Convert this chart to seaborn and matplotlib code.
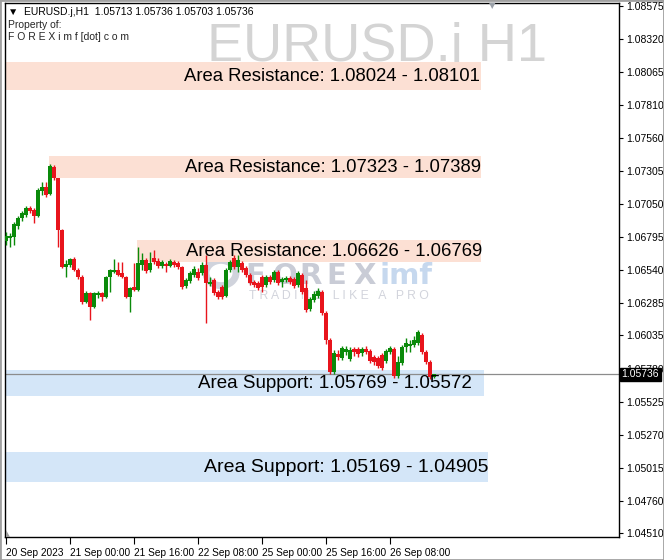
import numpy as np
import pandas as pd
import matplotlib
matplotlib.use("Agg")
import matplotlib.pyplot as plt
import seaborn as sns

# ---------------------------------------------------------
# DATA (EURUSD.j H1, 20 Sep - 26 Sep 2023)
# ---------------------------------------------------------

opens = [1.06762, 1.06785, 1.06793, 1.06878, 1.06940, 1.06963, 1.07017, 1.07001, 1.06955, 1.07148,
         1.07179, 1.07125, 1.07333, 1.07248, 1.06847, 1.06562, 1.06577, 1.06624, 1.06539, 1.06485,
         1.06292, 1.06361, 1.06253, 1.06346, 1.06361, 1.06330, 1.06485, 1.06523, 1.06539, 1.06516,
         1.06485, 1.06330, 1.06408, 1.06384, 1.06577, 1.06616, 1.06539, 1.06631, 1.06608, 1.06570,
         1.06585, 1.06570, 1.06600, 1.06593, 1.06562, 1.06415, 1.06454, 1.06500, 1.06523, 1.06516,
         1.06577, 1.06431, 1.06461, 1.06369, 1.06408, 1.06338, 1.06539, 1.06631, 1.06562, 1.06593,
         1.06554, 1.06500, 1.06446, 1.06438, 1.06485, 1.06423, 1.06485, 1.06461, 1.06523, 1.06446,
         1.06461, 1.06477, 1.06469, 1.06423, 1.06500, 1.06400, 1.06238, 1.06307, 1.06338, 1.06369,
         1.06207, 1.05999, 1.05752, 1.05891, 1.05860, 1.05907, 1.05853, 1.05930, 1.05930, 1.05899,
         1.05930, 1.05914, 1.05868, 1.05860, 1.05883, 1.05837, 1.05907, 1.05930, 1.05721, 1.05822,
         1.05945, 1.05953, 1.05960, 1.05976, 1.06038, 1.05907, 1.05829, 1.05713]

highs = [1.06832, 1.06824, 1.06909, 1.06955, 1.06994, 1.07032, 1.07032, 1.07017, 1.07171, 1.07217,
         1.07217, 1.07356, 1.07348, 1.07248, 1.06855, 1.06616, 1.06631, 1.06639, 1.06554, 1.06500,
         1.06377, 1.06369, 1.06369, 1.06377, 1.06369, 1.06492, 1.06546, 1.06624, 1.06600, 1.06600,
         1.06492, 1.06408, 1.06593, 1.06716, 1.06670, 1.06631, 1.06678, 1.06693, 1.06631, 1.06616,
         1.06600, 1.06624, 1.06616, 1.06608, 1.06570, 1.06477, 1.06531, 1.06570, 1.06554, 1.06600,
         1.06655, 1.06485, 1.06477, 1.06384, 1.06423, 1.06554, 1.06616, 1.06655, 1.06655, 1.06608,
         1.06570, 1.06516, 1.06461, 1.06454, 1.06500, 1.06500, 1.06500, 1.06539, 1.06539, 1.06485,
         1.06492, 1.06492, 1.06485, 1.06531, 1.06516, 1.06461, 1.06331, 1.06377, 1.06400, 1.06385,
         1.06223, 1.06014, 1.05922, 1.05922, 1.05953, 1.05953, 1.05945, 1.05945, 1.05945, 1.05945,
         1.05953, 1.05930, 1.05883, 1.05876, 1.05899, 1.05930, 1.05953, 1.05945, 1.05876, 1.05960,
         1.06014, 1.05999, 1.06030, 1.06076, 1.06053, 1.05922, 1.05845, 1.05736]

lows = [1.06731, 1.06716, 1.06731, 1.06855, 1.06917, 1.06947, 1.06978, 1.06901, 1.06947, 1.07117,
        1.07102, 1.07117, 1.07233, 1.06716, 1.06554, 1.06485, 1.06562, 1.06531, 1.06469, 1.06276,
        1.06284, 1.06153, 1.06245, 1.06323, 1.06300, 1.06323, 1.06369, 1.06516, 1.06492, 1.06477,
        1.06323, 1.06215, 1.06377, 1.06377, 1.06539, 1.06516, 1.06523, 1.06585, 1.06554, 1.06554,
        1.06523, 1.06562, 1.06562, 1.06546, 1.06392, 1.06400, 1.06438, 1.06485, 1.06461, 1.06500,
        1.06130, 1.06415, 1.06346, 1.06315, 1.06315, 1.06330, 1.06523, 1.06546, 1.06523, 1.06523,
        1.06485, 1.06423, 1.06408, 1.06384, 1.06369, 1.06408, 1.06431, 1.06446, 1.06423, 1.06408,
        1.06446, 1.06431, 1.06400, 1.06408, 1.06353, 1.06215, 1.06223, 1.06292, 1.06323, 1.06192,
        1.05968, 1.05737, 1.05737, 1.05845, 1.05845, 1.05883, 1.05837, 1.05876, 1.05868, 1.05876,
        1.05891, 1.05822, 1.05806, 1.05783, 1.05768, 1.05822, 1.05891, 1.05706, 1.05706, 1.05806,
        1.05907, 1.05907, 1.05945, 1.05960, 1.05891, 1.05814, 1.05698, 1.05703]

closes = [1.06801, 1.06801, 1.06893, 1.06940, 1.06978, 1.07017, 1.06994, 1.06955, 1.07156, 1.07179,
          1.07117, 1.07341, 1.07248, 1.06847, 1.06562, 1.06585, 1.06624, 1.06539, 1.06485, 1.06292,
          1.06361, 1.06253, 1.06361, 1.06361, 1.06330, 1.06485, 1.06539, 1.06539, 1.06500, 1.06485,
          1.06330, 1.06400, 1.06384, 1.06593, 1.06616, 1.06531, 1.06593, 1.06600, 1.06570, 1.06600,
          1.06570, 1.06608, 1.06577, 1.06562, 1.06408, 1.06461, 1.06516, 1.06546, 1.06477, 1.06577,
          1.06438, 1.06446, 1.06361, 1.06330, 1.06330, 1.06539, 1.06600, 1.06562, 1.06616, 1.06539,
          1.06500, 1.06438, 1.06423, 1.06400, 1.06408, 1.06485, 1.06446, 1.06523, 1.06438, 1.06469,
          1.06477, 1.06446, 1.06415, 1.06516, 1.06369, 1.06230, 1.06315, 1.06354, 1.06377, 1.06207,
          1.05999, 1.05752, 1.05899, 1.05868, 1.05937, 1.05930, 1.05922, 1.05907, 1.05891, 1.05930,
          1.05907, 1.05837, 1.05829, 1.05799, 1.05783, 1.05914, 1.05937, 1.05721, 1.05829, 1.05945,
          1.05976, 1.05968, 1.05999, 1.06061, 1.05907, 1.05829, 1.05714, 1.05736]

time_tick_bars = [0, 16, 32, 48, 64, 80, 96]
time_tick_labels = ["20 Sep 2023", "21 Sep 00:00", "21 Sep 16:00", "22 Sep 08:00",
                    "25 Sep 00:00", "25 Sep 16:00", "26 Sep 08:00"]

price_ticks = [1.08575, 1.08320, 1.08065, 1.07810, 1.07560, 1.07305, 1.07050, 1.06795, 1.06540,
               1.06285, 1.06035, 1.05780, 1.05525, 1.05270, 1.05015, 1.04760, 1.04510]

zone_labels = ["Area Resistance: 1.08024 - 1.08101",
               "Area Resistance: 1.07323 - 1.07389",
               "Area Resistance: 1.06626 - 1.06769",
               "Area Support: 1.05769 - 1.05572",
               "Area Support: 1.05169 - 1.04905"]
zone_top = [1.08142, 1.07417, 1.06770, 1.05768, 1.05135]
zone_bottom = [1.07927, 1.07248, 1.06600, 1.05567, 1.04904]
zone_start = [-0.25, 10.75, 32.75, -0.25, -0.25]
zone_end = [118.75, 118.75, 118.75, 119.5, 120.5]
zone_text_x = [118.5, 118.75, 119.0, 116.5, 120.75]
zone_text_size = [13.3, 13.3, 13.3, 13.5, 14.0]
zone_kind = ["res", "res", "res", "sup", "sup"]

last_price = 1.05736

# ---------------------------------------------------------
# STYLE
# ---------------------------------------------------------

sns.set_theme(style="white")
plt.rcParams['font.family'] = ['Liberation Sans', 'DejaVu Sans']

UP = "#0a8a0a"
DOWN = "#e8141c"
RES_FILL = "#fce0d4"
SUP_FILL = "#d4e6f8"

df = pd.DataFrame({"open": opens, "high": highs, "low": lows, "close": closes})
df["bar"] = np.arange(len(df))
df["color"] = np.where(df["close"] >= df["open"], UP, DOWN)

W, H = 664, 560
fig = plt.figure(figsize=(W / 100, H / 100), dpi=100)
ax = fig.add_axes([5 / W, 23 / H, 614 / W, 534 / H])
ax.set_zorder(1)
ax.patch.set_alpha(0)

# ---------------------------------------------------------
# WATERMARKS (behind the chart)
# ---------------------------------------------------------

fig.text(207 / W, 1 - 61 / H, "EURUSD.j H1", fontsize=39, color="#d4d4d4",
         va="baseline", ha="left", zorder=-1)

for k, ch in enumerate("FOREX"):
    fig.text((245 + 27 * k) / W, 1 - 284 / H, ch, fontsize=21, fontweight="bold",
             color="#c9ccd6", va="baseline", ha="left", zorder=-1,
             family=["DejaVu Sans"])
fig.text(380 / W, 1 - 284 / H, "imf", fontsize=21, fontweight="bold",
         color="#c6d8ee", va="baseline", ha="left", zorder=-1,
         family=["DejaVu Sans"])
fig.text(249 / W, 1 - 299 / H, "T R A D I N G   L I K E   A   P R O", fontsize=8.8,
         color="#d2d4dc", va="baseline", ha="left", zorder=-1)
logo = plt.Circle((221 / W, 1 - 273 / H), 15 / W, transform=fig.transFigure,
                  facecolor="none", edgecolor="#d0d3dc", lw=5, zorder=-1)
fig.patches.append(logo)

# ---------------------------------------------------------
# ZONES
# ---------------------------------------------------------

for lab, top, bot, x0, x1, tx, fs, kind in zip(zone_labels, zone_top, zone_bottom,
                                              zone_start, zone_end, zone_text_x,
                                              zone_text_size, zone_kind):
    ax.fill_between([x0, x1], bot, top, color=RES_FILL if kind == "res" else SUP_FILL,
                    lw=0, zorder=1)
    ax.text(tx, (top + bot) / 2, lab, ha="right", va="center", fontsize=fs,
            color="black", zorder=5)

# ---------------------------------------------------------
# CANDLES
# ---------------------------------------------------------

ax.vlines(df["bar"], df["low"], df["high"], colors=df["color"], lw=1, zorder=3)
ax.bar(df["bar"], (df["close"] - df["open"]).abs().clip(lower=0.000012),
       bottom=df[["open", "close"]].min(axis=1), width=0.78,
       color=df["color"], lw=0, zorder=4)

# current price line
ax.axhline(last_price, color="#8c8c8c", lw=0.9, zorder=2)

# ---------------------------------------------------------
# AXES
# ---------------------------------------------------------

ax.set_xlim(-0.25, 153.25)
ax.set_ylim(1.04481, 1.08598)

ax.yaxis.tick_right()
ax.set_yticks(price_ticks)
ax.set_yticklabels([f"{p:.5f}" for p in price_ticks])
ax.tick_params(axis="y", right=True, length=3, width=0.8, pad=2, labelsize=7.5,
               colors="black", direction="out")

ax.set_xticks(time_tick_bars)
ax.set_xticklabels(time_tick_labels, ha="left")
ax.tick_params(axis="x", bottom=True, length=5, width=0.8, pad=3, labelsize=7.3,
               colors="black", direction="out")

for s in ax.spines.values():
    s.set_color("black")
    s.set_linewidth(1)

ax.text(1.004, last_price, "1.05736", transform=ax.get_yaxis_transform(),
        ha="left", va="center", fontsize=7.5, color="white", zorder=10,
        bbox=dict(facecolor="black", edgecolor="black", pad=1.2))

# ---------------------------------------------------------
# HEADER TEXT
# ---------------------------------------------------------

fig.text(8 / W, 1 - 12 / H, "\u25bc  EURUSD.j,H1  1.05713 1.05736 1.05703 1.05736",
         fontsize=7.5, va="center", ha="left", color="black",
         family=["Liberation Sans", "DejaVu Sans"])
fig.text(8 / W, 1 - 25 / H, "Property of:", fontsize=7.5, va="center", ha="left")
fig.text(8 / W, 1 - 37 / H, "F O R E X i m f [dot] c o m", fontsize=7.5,
         va="center", ha="left")

# small chart-shift marker and corner marker
fig.text(492 / W, 1 - 6 / H, "\u25bc", fontsize=6, color="#9aa0a8",
         ha="center", va="center", family=["DejaVu Sans"])
fig.patches.append(plt.Polygon([(6 / W, 23 / H), (10 / W, 23 / H), (6 / W, 30 / H)],
                               closed=True, transform=fig.transFigure,
                               facecolor="#9a9a9a", edgecolor="none"))

# outer frame
fig.patches.append(plt.Rectangle((0, 0), 1, 1, transform=fig.transFigure,
                                 fill=False, edgecolor="#a0a0a0", lw=2))

plt.savefig("out.png", dpi=100)
